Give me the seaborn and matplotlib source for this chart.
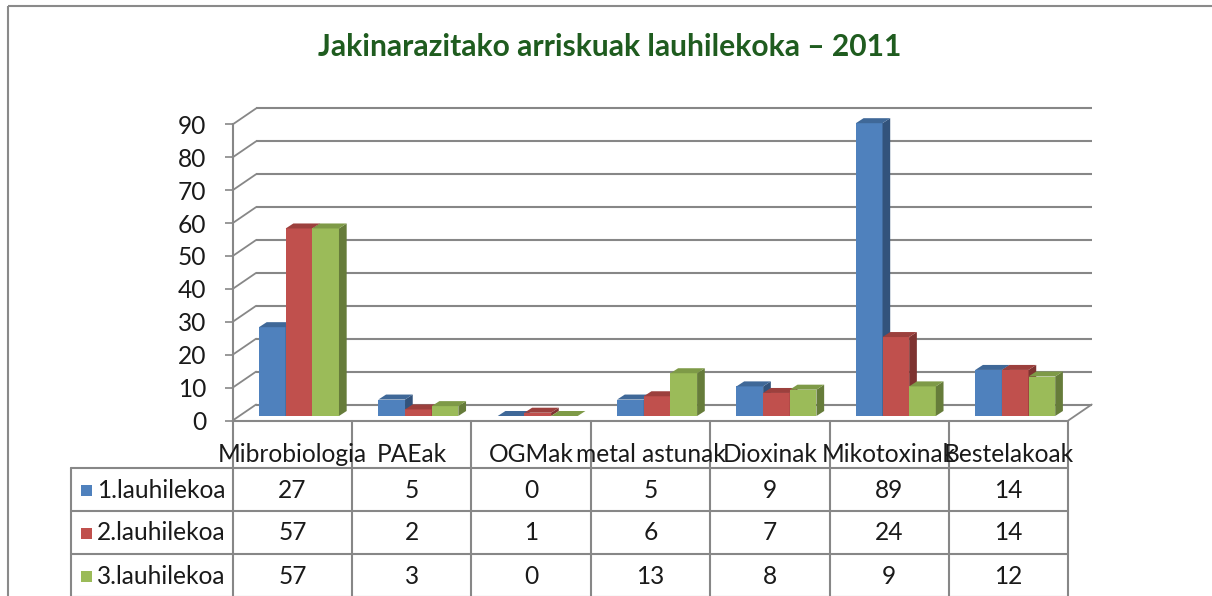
import numpy as np
import pandas as pd
import matplotlib
matplotlib.use("Agg")
import matplotlib.pyplot as plt
import matplotlib.colors as mcolors
from matplotlib.patches import Polygon, Rectangle
import seaborn as sns

# ---------------- data ----------------
CATEGORIES = ["Mibrobiologia", "PAEak", "OGMak", "metal astunak",
              "Dioxinak", "Mikotoxinak", "Bestelakoak"]
SERIES = ["1.lauhilekoa", "2.lauhilekoa", "3.lauhilekoa"]
S1 = [27, 5, 0, 5, 9, 89, 14]
S2 = [57, 2, 1, 6, 7, 24, 14]
S3 = [57, 3, 0, 13, 8, 9, 12]
YTICKS = [0, 10, 20, 30, 40, 50, 60, 70, 80, 90]
TITLE = "Jakinarazitako arriskuak lauhilekoka – 2011"

VALUES = [S1, S2, S3]
df = pd.DataFrame({
    "Kategoria": [c for s in SERIES for c in CATEGORIES],
    "Balioa": [v for vals in VALUES for v in vals],
    "Lauhilekoa": [s for s in SERIES for _ in CATEGORIES],
})

# ---------------- style ----------------
FRONT = ["#4F81BD", "#C0504D", "#9BBB59"]
TOP = ["#3F6898", "#9C403D", "#7E9A47"]
SIDE = ["#32537C", "#7E3331", "#667C3A"]
GRID = "#878787"
TXT = "#1a1a1a"

sns.set_theme(style="white")
plt.rcParams["font.family"] = ["Lato", "DejaVu Sans"]

W, H = 1212, 596
fig = plt.figure(figsize=(W / 100, H / 100), dpi=100)
fig.patch.set_facecolor("white")

# layout in pixels
X_LEFT = 232.7
COLW = 119.37
NCAT = len(CATEGORIES)
X_RIGHT = X_LEFT + NCAT * COLW
Y_FLOOR = 420.5
PXU = 3.29  # pixels per value unit
YMAX = 90

ax = fig.add_axes([X_LEFT / W, (H - Y_FLOOR) / H, NCAT * COLW / W, YMAX * PXU / H])
ax.set_facecolor("none")

# pixel -> data conversions
ux = 1.0 / COLW
uy = 1.0 / PXU
BAR_DX, BAR_DY = 6.6 * ux, 4.5 * uy      # bar plane behind front
DDX, DDY = 7.7 * ux, 5.0 * uy            # bar depth
WDX, WDY = 23.4 * ux, 16.0 * uy          # back wall

# font size fitting
renderer = fig.canvas.get_renderer()
def fit_size(s, target_px, **kw):
    t = fig.text(0, 0, s, fontsize=10, **kw)
    w = t.get_window_extent(renderer).width
    t.remove()
    return 10.0 * target_px / w

FS = fit_size("1.lauhilekoa", 129)
FS_TITLE = fit_size(TITLE, 584, fontweight="bold")

# ---------------- bars ----------------
sns.barplot(data=df, x="Kategoria", y="Balioa", hue="Lauhilekoa",
            palette=FRONT, width=0.67, saturation=1, gap=0,
            legend=False, ax=ax, errorbar=None)

patches = list(ax.patches)
info = []
for k, p in enumerate(patches):
    info.append((p.get_x(), k // NCAT, p))
info.sort(key=lambda t: t[0])

z = 3.0
for x0, hi, p in info:
    w = p.get_width()
    h = p.get_height()
    x = x0 + BAR_DX
    b = BAR_DY
    p.set_x(x)
    p.set_y(b)
    p.set_facecolor(FRONT[hi])
    p.set_edgecolor("none")
    p.set_linewidth(0)
    p.set_zorder(z)
    p.set_clip_on(False)
    side = Polygon([(x + w, b), (x + w, b + h), (x + w + DDX, b + h + DDY),
                    (x + w + DDX, b + DDY)], closed=True,
                   facecolor=SIDE[hi], edgecolor="none", zorder=z + 0.1,
                   clip_on=False)
    top = Polygon([(x, b + h), (x + w, b + h), (x + w + DDX, b + h + DDY),
                   (x + DDX, b + h + DDY)], closed=True,
                  facecolor=TOP[hi], edgecolor="none", zorder=z + 0.2,
                  clip_on=False)
    ax.add_patch(side)
    ax.add_patch(top)
    z += 0.5

# ---------------- 3D frame ----------------
x_lo, x_hi = -0.5, NCAT - 0.5
for v in YTICKS:
    ax.plot([x_lo + WDX, x_hi + WDX], [v + WDY, v + WDY], color=GRID,
            lw=1.5, zorder=1, clip_on=False, solid_capstyle="butt")
    ax.plot([x_lo, x_lo + WDX], [v, v + WDY], color=GRID, lw=1.3,
            zorder=1, clip_on=False)
ax.plot([x_lo, x_hi], [0, 0], color=GRID, lw=1.5, zorder=1, clip_on=False)
ax.plot([x_hi, x_hi + WDX], [0, WDY], color=GRID, lw=1.3, zorder=1, clip_on=False)

ax.set_xlim(x_lo, x_hi)
ax.set_ylim(0, YMAX)
ax.set_xticks([])
ax.set_yticks(YTICKS)
ax.set_yticklabels([str(v) for v in YTICKS])
ax.tick_params(axis="y", length=5.8, width=1.2, color=GRID, pad=13,
               labelsize=FS, labelcolor=TXT, left=True)
ax.set_xlabel("")
ax.set_ylabel("")
for s in ["top", "right", "bottom"]:
    ax.spines[s].set_visible(False)
ax.spines["left"].set_color(GRID)
ax.spines["left"].set_linewidth(1.5)

# ---------------- table overlay ----------------
tab = fig.add_axes([0, 0, 1, 1])
tab.set_xlim(0, W)
tab.set_ylim(H, 0)
tab.axis("off")
tab.set_zorder(ax.get_zorder() - 1)
tab.patch.set_alpha(0)

# outer frame
tab.add_patch(Rectangle((8, 6), W + 20, H + 20, fill=False,
                        edgecolor="#8a8a8a", lw=1.5))

TAB_LEFT = 71
ROW_Y = [468, 511, 554, 597]
for k in range(NCAT + 1):
    xx = X_LEFT + k * COLW
    tab.plot([xx, xx], [Y_FLOOR, H + 3], color=GRID, lw=1.5)
for yy in ROW_Y:
    tab.plot([TAB_LEFT, X_RIGHT], [yy, yy], color=GRID, lw=1.5)
tab.plot([TAB_LEFT, TAB_LEFT], [ROW_Y[0], H + 3], color=GRID, lw=1.5)

for i, c in enumerate(CATEGORIES):
    tab.text(X_LEFT + (i + 0.5) * COLW, 455, c, ha="center", va="center",
             fontsize=FS, color=TXT)

for r, (name, vals) in enumerate(zip(SERIES, VALUES)):
    rc = (ROW_Y[r] + ROW_Y[r + 1]) / 2 + 0.5
    tab.add_patch(Rectangle((81, rc - 5.5), 11, 11, facecolor=FRONT[r],
                            edgecolor="none"))
    tab.text(97, rc, name, ha="left", va="center", fontsize=FS, color=TXT)
    for i, v in enumerate(vals):
        tab.text(X_LEFT + (i + 0.5) * COLW, rc, str(v), ha="center",
                 va="center", fontsize=FS, color=TXT)

tab.text(610, 47, TITLE, ha="center", va="center", fontsize=FS_TITLE,
         fontweight="bold", color="#1F5C1F")

fig.savefig("out.png", dpi=100)
